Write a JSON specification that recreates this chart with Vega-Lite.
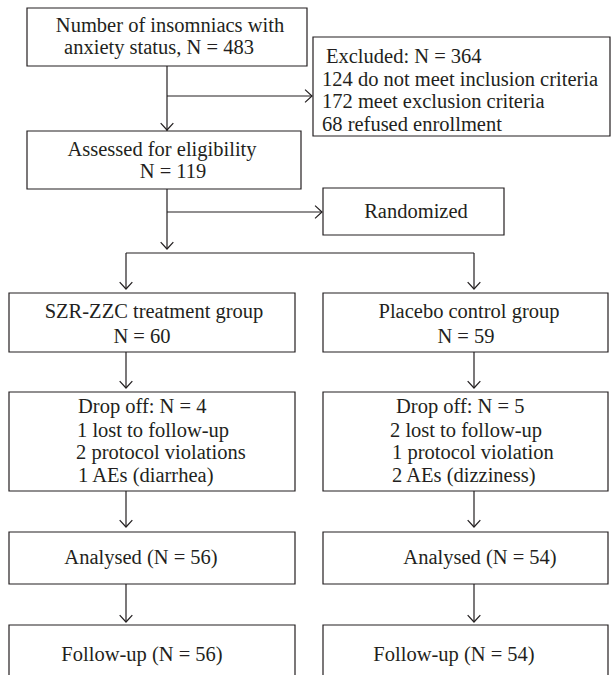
{
  "$schema": "https://vega.github.io/schema/vega-lite/v6.json",
  "width": 611,
  "height": 675,
  "padding": 0,
  "autosize": {"type": "none"},
  "background": "white",
  "config": {"view": {"stroke": null}, "axis": {"disable": true}},
  "datasets": {
    "boxes": [
      {"name": "start", "x": 27, "x2": 307, "y": 8, "y2": 66},
      {"name": "excluded", "x": 313, "x2": 610, "y": 37, "y2": 136},
      {"name": "assessed", "x": 27, "x2": 301, "y": 131, "y2": 189},
      {"name": "randomized", "x": 323, "x2": 504, "y": 188, "y2": 235},
      {"name": "szr", "x": 9, "x2": 295, "y": 293, "y2": 352},
      {"name": "placebo", "x": 323, "x2": 608, "y": 293, "y2": 352},
      {"name": "dropL", "x": 9, "x2": 295, "y": 392, "y2": 491},
      {"name": "dropR", "x": 323, "x2": 608, "y": 392, "y2": 491},
      {"name": "anaL", "x": 9, "x2": 295, "y": 532, "y2": 584},
      {"name": "anaR", "x": 323, "x2": 608, "y": 532, "y2": 584},
      {"name": "fuL", "x": 9, "x2": 295, "y": 625, "y2": 678},
      {"name": "fuR", "x": 323, "x2": 608, "y": 625, "y2": 678}
    ],
    "lines": [
      {"x": 167, "y": 66, "x2": 167, "y2": 131},
      {"x": 167, "y": 96, "x2": 312, "y2": 96},
      {"x": 167, "y": 189, "x2": 167, "y2": 249},
      {"x": 167, "y": 212, "x2": 322, "y2": 212},
      {"x": 126, "y": 253, "x2": 474, "y2": 253},
      {"x": 126, "y": 253, "x2": 126, "y2": 289},
      {"x": 474, "y": 253, "x2": 474, "y2": 289},
      {"x": 126, "y": 352, "x2": 126, "y2": 388},
      {"x": 474, "y": 352, "x2": 474, "y2": 388},
      {"x": 126, "y": 491, "x2": 126, "y2": 527},
      {"x": 474, "y": 491, "x2": 474, "y2": 527},
      {"x": 126, "y": 584, "x2": 126, "y2": 622},
      {"x": 474, "y": 584, "x2": 474, "y2": 622}
    ],
    "arrows": [
      {"x": 167, "y": 130, "dir": "down"},
      {"x": 312, "y": 96, "dir": "right"},
      {"x": 167, "y": 249, "dir": "down"},
      {"x": 322, "y": 212, "dir": "right"},
      {"x": 126, "y": 289, "dir": "down"},
      {"x": 474, "y": 289, "dir": "down"},
      {"x": 126, "y": 388, "dir": "down"},
      {"x": 474, "y": 388, "dir": "down"},
      {"x": 126, "y": 527, "dir": "down"},
      {"x": 474, "y": 527, "dir": "down"},
      {"x": 126, "y": 622, "dir": "down"},
      {"x": 474, "y": 622, "dir": "down"}
    ],
    "texts": [
      {"label": "Number of insomniacs with", "x": 170, "y": 26, "kind": "center"},
      {"label": "anxiety status, N = 483", "x": 159, "y": 48, "kind": "center"},
      {"label": "Assessed for eligibility", "x": 162, "y": 150, "kind": "center"},
      {"label": "N = 119", "x": 173, "y": 172, "kind": "center"},
      {"label": "Randomized", "x": 416, "y": 212, "kind": "center"},
      {"label": "SZR-ZZC treatment group", "x": 154, "y": 312, "kind": "center"},
      {"label": "N = 60", "x": 142, "y": 337, "kind": "center"},
      {"label": "Placebo control group", "x": 469, "y": 312, "kind": "center"},
      {"label": "N = 59", "x": 466, "y": 337, "kind": "center"},
      {"label": "Analysed (N = 56)", "x": 141, "y": 558, "kind": "center"},
      {"label": "Analysed (N = 54)", "x": 480, "y": 558, "kind": "center"},
      {"label": "Follow-up (N = 56)", "x": 142, "y": 655, "kind": "center"},
      {"label": "Follow-up (N = 54)", "x": 454, "y": 655, "kind": "center"},
      {"label": "Excluded: N = 364", "x": 326, "y": 57, "kind": "left"},
      {"label": "124 do not meet inclusion criteria", "x": 322, "y": 80, "kind": "left"},
      {"label": "172 meet exclusion criteria", "x": 322, "y": 102, "kind": "left"},
      {"label": "68 refused enrollment", "x": 322, "y": 125, "kind": "left"},
      {"label": "Drop off: N = 4", "x": 78, "y": 407, "kind": "left"},
      {"label": "1 lost to follow-up", "x": 77, "y": 431, "kind": "left"},
      {"label": "2 protocol violations", "x": 76, "y": 453, "kind": "left"},
      {"label": "1 AEs (diarrhea)", "x": 78, "y": 476, "kind": "left"},
      {"label": "Drop off: N = 5", "x": 396, "y": 407, "kind": "left"},
      {"label": "2 lost to follow-up", "x": 390, "y": 431, "kind": "left"},
      {"label": "1 protocol violation", "x": 392, "y": 453, "kind": "left"},
      {"label": "2 AEs (dizziness)", "x": 392, "y": 476, "kind": "left"}
    ]
  },
  "layer": [
    {
      "data": {"name": "lines"},
      "mark": {"type": "rule", "color": "#231f20", "strokeWidth": 1.2},
      "encoding": {
        "x": {"field": "x", "type": "quantitative", "scale": {"domain": [0, 611], "nice": false, "zero": false}},
        "y": {"field": "y", "type": "quantitative", "scale": {"domain": [0, 675], "nice": false, "zero": false, "reverse": true}},
        "x2": {"field": "x2"},
        "y2": {"field": "y2"}
      }
    },
    {
      "data": {"name": "boxes"},
      "mark": {"type": "rect", "fill": "white", "stroke": "#231f20", "strokeWidth": 1.2, "clip": true},
      "encoding": {
        "x": {"field": "x", "type": "quantitative"},
        "y": {"field": "y", "type": "quantitative"},
        "x2": {"field": "x2"},
        "y2": {"field": "y2"}
      }
    },
    {
      "data": {"name": "arrows"},
      "mark": {"type": "point", "filled": false, "stroke": "#231f20", "strokeWidth": 1.2, "size": 160, "opacity": 1},
      "encoding": {
        "x": {"field": "x", "type": "quantitative"},
        "y": {"field": "y", "type": "quantitative"},
        "shape": {
          "field": "dir", "type": "nominal", "legend": null,
          "scale": {"domain": ["down", "right"], "range": ["M-1,-1.1L0,0L1,-1.1", "M-1.1,-1L0,0L-1.1,1"]}
        }
      }
    },
    {
      "data": {"name": "texts"},
      "transform": [{"filter": "datum.kind === 'center'"}],
      "mark": {"type": "text", "font": "Liberation Serif", "fontSize": 20.5, "align": "center", "baseline": "middle", "color": "#231f20"},
      "encoding": {
        "x": {"field": "x", "type": "quantitative"},
        "y": {"field": "y", "type": "quantitative"},
        "text": {"field": "label"}
      }
    },
    {
      "data": {"name": "texts"},
      "transform": [{"filter": "datum.kind === 'left'"}],
      "mark": {"type": "text", "font": "Liberation Serif", "fontSize": 20.5, "align": "left", "baseline": "middle", "color": "#231f20"},
      "encoding": {
        "x": {"field": "x", "type": "quantitative"},
        "y": {"field": "y", "type": "quantitative"},
        "text": {"field": "label"}
      }
    }
  ]
}
